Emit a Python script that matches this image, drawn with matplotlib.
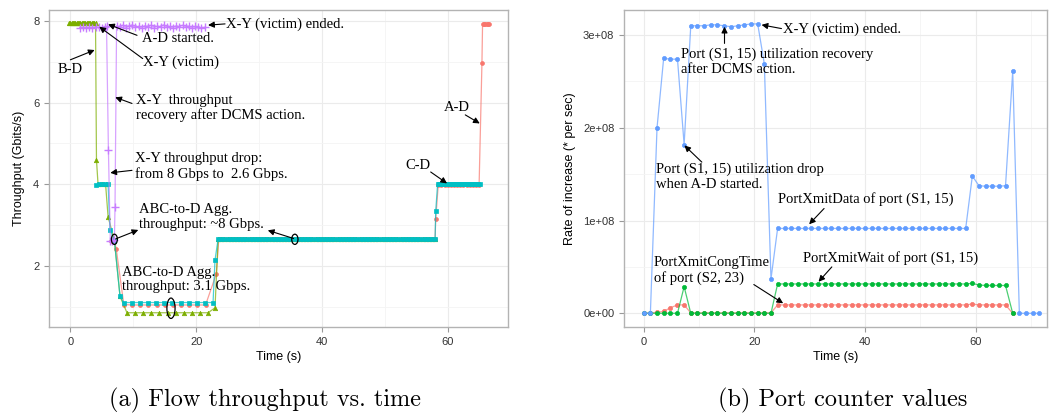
import numpy as np
import matplotlib
matplotlib.use('Agg')
import matplotlib.pyplot as plt
from matplotlib.patches import Ellipse
from matplotlib.ticker import MultipleLocator, FuncFormatter


def seg(t0, t1, step, v):
    t = np.arange(t0, t1 + 1e-6, step)
    return t, np.full(len(t), v)


# ---- (a) flow throughput, Gbits/s ----
ad_time = np.concatenate([[6.5, 7.0, 7.3, 8.5], seg(9.8, 22.3, 1.3, 1.04)[0], [23.2, 23.6],
                          seg(24.0, 58.0, 0.5, 2.65)[0], [58.1, 58.5], seg(59.0, 65.3, 0.5, 3.98)[0],
                          [65.45, 65.55], seg(65.8, 66.6, 0.2, 7.93)[0]])
ad_rate = np.concatenate([[2.6, 2.62, 2.41, 1.05], seg(9.8, 22.3, 1.3, 1.04)[1], [1.8, 2.65],
                          seg(24.0, 58.0, 0.5, 2.65)[1], [3.15, 3.98], seg(59.0, 65.3, 0.5, 3.98)[1],
                          [6.96, 7.93], seg(65.8, 66.6, 0.2, 7.93)[1]])

bd_time = np.concatenate([seg(-0.2, 4.0, 0.2, 7.95)[0], [4.15, 4.4, 5.0, 5.6, 6.0, 7.0, 7.9],
                          seg(9.0, 21.9, 1.29, 0.85)[0], [23.0, 23.5], seg(24.0, 58.0, 0.5, 2.65)[0]])
bd_rate = np.concatenate([seg(-0.2, 4.0, 0.2, 7.95)[1], [4.6, 4.0, 4.0, 4.0, 3.2, 2.62, 1.25],
                          seg(9.0, 21.9, 1.29, 0.85)[1], [0.97, 2.66], seg(24.0, 58.0, 0.5, 2.65)[1]])

cd_time = np.concatenate([[4.1, 4.5, 5.0, 5.5, 6.0, 6.3, 7.0, 7.9], seg(8.5, 22.7, 1.29, 1.1)[0],
                          [23.0, 23.5], seg(24.0, 58.0, 0.5, 2.65)[0], [58.1, 58.4],
                          seg(58.6, 65.3, 0.25, 4.0)[0]])
cd_rate = np.concatenate([[3.98, 4.0, 4.0, 4.0, 4.0, 2.88, 2.62, 1.25], seg(8.5, 22.7, 1.29, 1.1)[1],
                          [2.14, 2.66], seg(24.0, 58.0, 0.5, 2.65)[1], [3.34, 4.0],
                          seg(58.6, 65.3, 0.25, 4.0)[1]])

xy_time = [1.5, 2.0, 2.5, 3.0, 3.5, 4.0, 4.5, 5.0, 5.5, 5.75, 6.05, 6.35, 6.7, 7.0, 7.1,
           7.35, 7.85, 8.35, 8.85, 9.35, 9.85, 10.35, 10.85, 11.35, 11.85, 12.35, 12.85,
           13.35, 13.85, 14.35, 14.85, 15.35, 15.85, 16.35, 16.85, 17.35, 17.85, 18.35,
           18.85, 19.35, 19.85, 20.35, 20.85, 21.35]
xy_rate = [7.84, 7.85, 7.83, 7.85, 7.84, 7.86, 7.85, 7.84, 7.86, 7.87, 4.84, 2.62, 2.6, 2.64, 3.45,
           7.88, 7.86, 7.9, 7.84, 7.88, 7.91, 7.85, 7.87, 7.83, 7.89, 7.86, 7.9,
           7.84, 7.88, 7.86, 7.91, 7.85, 7.87, 7.84, 7.89, 7.86, 7.9, 7.85,
           7.88, 7.84, 7.87, 7.86, 7.83, 7.85]

# ---- (b) port counters ----
pc_time = [0.0, 1.2, 2.4, 3.6, 4.8, 6.1, 7.3, 8.5, 9.7, 10.9, 12.1, 13.3, 14.5, 15.8, 17.0,
           18.2, 19.4, 20.6, 21.8, 23.0, 24.2, 25.5, 26.7, 27.9, 29.1, 30.3, 31.5, 32.7,
           33.9, 35.1, 36.4, 37.6, 38.8, 40.0, 41.2, 42.4, 43.6, 44.8, 46.1, 47.3, 48.5,
           49.7, 50.9, 52.1, 53.3, 54.5, 55.8, 57.0, 58.2, 59.4, 60.6, 61.8, 63.0, 64.2,
           65.4, 66.7, 67.9, 69.1, 70.3, 71.5]
xmit_data = np.array([0, 0, 2.00, 2.75, 2.74, 2.74, 1.82, 3.10, 3.10, 3.10, 3.11, 3.11, 3.10, 3.09,
                      3.10, 3.11, 3.12, 3.12, 2.69, 0.37] + [0.915] * 29 +
                     [1.48, 1.375, 1.37, 1.37, 1.37, 1.375, 2.61, 0, 0, 0, 0]) * 1e8
xmit_wait = np.array([0] * 6 + [0.287] + [0] * 13 + [0.316] * 29 +
                     [0.323, 0.305, 0.30, 0.30, 0.30, 0.30, 0]) * 1e8
cong_time = np.array([0, 0.005, 0.01, 0.02, 0.06, 0.09, 0.09] + [0.005] * 13 + [0.09] * 29 +
                     [0.10, 0.09, 0.09, 0.09, 0.09, 0.09, 0]) * 1e8

RED, GREEN, CYAN, PURPLE = '#F8766D', '#7CAE00', '#00BFC4', '#C77CFF'
GREEN2, BLUE = '#00BA38', '#619CFF'

SERIF = 'Liberation Serif'
SANS = 'Liberation Sans'

fig = plt.figure(figsize=(10.49, 4.16), dpi=100)
ax1 = fig.add_axes([0.0467, 0.2139, 0.4376, 0.762])
ax2 = fig.add_axes([0.5949, 0.2139, 0.4032, 0.762])


def style(ax):
    ax.set_axisbelow(True)
    for s in ax.spines.values():
        s.set_color('#B3B3B3')
        s.set_linewidth(1)
    ax.grid(which='major', color='#EBEBEB', lw=0.8)
    ax.grid(which='minor', color='#F4F4F4', lw=0.6)
    ax.tick_params(which='major', length=3.5, color='#999999', labelsize=8, labelcolor='#333333')
    ax.tick_params(which='minor', length=0)
    for lab in ax.get_xticklabels() + ax.get_yticklabels():
        lab.set_family(SANS)


def series(ax, t, v, c, mk, ms, mew=0.5):
    ax.plot(t, v, color=c, lw=0.9, alpha=0.7)
    ax.plot(t, v, ls='none', marker=mk, ms=ms, color=c, mew=mew)


def arrow(ax, head, tail):
    ax.annotate('', xy=head, xytext=tail,
                arrowprops=dict(arrowstyle='-|>', color='black', lw=0.8, mutation_scale=9,
                                shrinkA=0, shrinkB=0))


def note(ax, x, y, s):
    ax.text(x, y, s, family=SERIF, fontsize=10.5, va='center', ha='left', linespacing=1.15)


# ---- panel (a) ----
series(ax1, ad_time, ad_rate, RED, 'o', 2.8)
series(ax1, bd_time, bd_rate, GREEN, '^', 3.2)
series(ax1, cd_time, cd_rate, CYAN, 's', 2.4)
series(ax1, xy_time, xy_rate, PURPLE, '+', 6, mew=1.0)

ax1.set_xlim(-3.4, 69.6)
ax1.set_ylim(0.5, 8.27)
ax1.xaxis.set_major_locator(MultipleLocator(20))
ax1.xaxis.set_minor_locator(MultipleLocator(10))
ax1.yaxis.set_major_locator(MultipleLocator(2))
ax1.yaxis.set_minor_locator(MultipleLocator(1))
style(ax1)
ax1.set_xlabel('Time (s)', family=SANS, fontsize=9, labelpad=3)
ax1.set_ylabel('Throughput (Gbits/s)', family=SANS, fontsize=9, labelpad=6)

note(ax1, 24.8, 7.93, 'X-Y (victim) ended.')
arrow(ax1, (21.9, 7.9), (24.6, 7.93))
note(ax1, 11.4, 7.58, 'A-D started.')
arrow(ax1, (6.0, 7.92), (10.6, 7.65))
note(ax1, 11.5, 7.0, 'X-Y (victim)')
arrow(ax1, (4.6, 7.86), (11.5, 7.08))
note(ax1, -2.1, 6.82, 'B-D')
arrow(ax1, (3.86, 7.29), (0.0, 7.05))
note(ax1, 10.5, 5.87, 'X-Y  throughput\nrecovery after DCMS action.')
arrow(ax1, (7.14, 6.13), (9.8, 5.98))
note(ax1, 10.3, 4.43, 'X-Y throughput drop:\nfrom 8 Gbps to  2.6 Gbps.')
arrow(ax1, (6.35, 4.28), (9.8, 4.34))
note(ax1, 10.85, 3.2, 'ABC-to-D Agg.\nthroughput: ~8 Gbps.')
arrow(ax1, (10.8, 2.88), (7.2, 2.66))
arrow(ax1, (31.4, 2.87), (35.5, 2.67))
note(ax1, 8.2, 1.66, 'ABC-to-D Agg.\nthroughput: 3.1 Gbps.')
note(ax1, 53.3, 4.45, 'C-D')
arrow(ax1, (59.9, 4.02), (57.3, 4.3))
note(ax1, 59.4, 5.88, 'A-D')
arrow(ax1, (65.1, 5.49), (62.8, 5.7))

for cx, cy, w, h in [(7.0, 2.65, 0.95, 0.25), (35.7, 2.65, 1.0, 0.25), (16.0, 0.96, 1.3, 0.5)]:
    ax1.add_patch(Ellipse((cx, cy), w, h, fill=False, ec='black', lw=0.9, zorder=5))

# ---- panel (b) ----
series(ax2, pc_time[:len(cong_time)], cong_time, RED, 'o', 3.0)
series(ax2, pc_time[:len(xmit_wait)], xmit_wait, GREEN2, 'o', 3.0)
series(ax2, pc_time, xmit_data, BLUE, 'o', 3.0)

ax2.set_xlim(-3.56, 72.9)
ax2.set_ylim(-0.148e8, 3.27e8)
ax2.xaxis.set_major_locator(MultipleLocator(20))
ax2.xaxis.set_minor_locator(MultipleLocator(10))
ax2.yaxis.set_major_locator(MultipleLocator(1e8))
ax2.yaxis.set_minor_locator(MultipleLocator(0.5e8))
ax2.yaxis.set_major_formatter(FuncFormatter(lambda v, p: f'{v:.0e}'))
style(ax2)
ax2.set_xlabel('Time (s)', family=SANS, fontsize=9, labelpad=3)
ax2.set_ylabel('Rate of increase (* per sec)', family=SANS, fontsize=9, labelpad=5)

note(ax2, 25.1, 3.06e8, 'X-Y (victim) ended.')
arrow(ax2, (21.3, 3.11e8), (24.9, 3.07e8))
note(ax2, 6.7, 2.71e8, 'Port (S1, 15) utilization recovery\nafter DCMS action.')
arrow(ax2, (14.6, 3.09e8), (14.6, 2.91e8))
note(ax2, 2.2, 1.47e8, 'Port (S1, 15) utilization drop\nwhen A-D started.')
arrow(ax2, (7.35, 1.81e8), (10.5, 1.63e8))
note(ax2, 24.2, 1.23e8, 'PortXmitData of port (S1, 15)')
arrow(ax2, (29.9, 0.96e8), (32.6, 1.13e8))
note(ax2, 28.7, 0.593e8, 'PortXmitWait of port (S1, 15)')
arrow(ax2, (31.6, 0.34e8), (34.0, 0.50e8))
note(ax2, 1.86, 0.46e8, 'PortXmitCongTime\nof port (S2, 23)')
arrow(ax2, (25.2, 0.108e8), (19.9, 0.31e8))

fig.text(0.2526, 0.0385, '(a) Flow throughput vs. time', family='cmr10', fontsize=17.5,
         ha='center', va='center')
fig.text(0.803, 0.0385, '(b) Port counter values', family='cmr10', fontsize=17.5,
         ha='center', va='center')

fig.savefig('out.png', dpi=100)
